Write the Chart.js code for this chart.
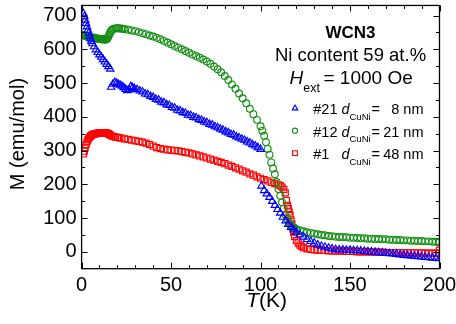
<!DOCTYPE html>
<html>
<head>
<meta charset="utf-8">
<script src="https://cdn.jsdelivr.net/npm/chart.js@4/dist/chart.umd.min.js"></script>
<style>
  html, body { margin: 0; padding: 0; background: #fff; }
  #wrap { width: 456px; height: 324px; }
</style>
</head>
<body>
<div id="wrap"><canvas id="chart" width="456" height="324"></canvas></div>
<script>
// Sample #21 (d_CuNi = 8 nm), blue triangles
var t21 = [1, 1.5, 2, 2.5, 3, 3.5, 4, 4.5, 5, 5.5, 6, 7, 8, 9, 10, 11, 12, 13, 14, 15, 16,
  16.5, 17.5, 18.5, 19.5, 20.5, 21.5, 22.5, 23.5, 24.5, 25.5, 26.5, 27.5, 28.5, 29.5,
  31, 32.5, 34, 35.5, 37, 38.5, 40, 41.5, 43, 44.5, 46, 47.5, 49, 50.5, 52, 53.5, 55, 56.5, 58, 59.5,
  61, 62.5, 64, 65.5, 67, 68.5, 70, 71.5, 73, 74.5, 76, 77.5, 79, 80.5, 82, 83.5, 85, 86.5, 88, 89.5,
  91, 92.5, 94, 95.5, 97, 98.5, 100,
  100.5, 102, 103.5, 105, 106.5, 108, 109.5, 111, 112.5, 114, 115.5, 117, 118.5, 120, 122, 124, 126, 128,
  130, 132, 134, 136, 138, 140, 142, 144, 146, 148, 150, 152, 154, 156, 158, 160, 162, 164, 166, 168,
  170, 172, 174, 176, 178, 180, 182, 184, 186, 188, 190, 192, 194, 196, 198, 200];
var m21 = [706, 697, 687, 677, 667, 657, 648, 639, 631, 624, 617, 608, 599, 591, 584, 577, 570, 563, 556, 549, 542,
  488, 497, 502, 500, 497, 494, 491, 487, 482, 478, 480, 490, 487, 484,
  481, 477, 474, 468, 466, 461, 458, 452, 450, 444, 442, 436, 434, 428, 426, 420, 418, 413, 411, 405,
  404, 399, 397, 392, 390, 385, 383, 378, 376, 371, 368, 364, 361, 356, 353, 348, 346, 341, 338, 334,
  331, 326, 323, 318, 314, 309, 304,
  195, 182, 172, 162, 150, 138, 126, 115, 103, 92, 82, 73, 65, 58, 51, 44, 37, 31,
  26, 21, 17, 14, 11, 9, 7, 6, 6, 5, 5, 4, 4, 3, 2, 1, 0, -1, -2, -3,
  -4, -5, -6, -7, -9, -10, -11, -12, -13, -14, -15, -16, -17, -18, -19, -20];

// Sample #12 (d_CuNi = 21 nm), green circles
var t12 = [0.5, 1, 1.5, 2, 2.5, 3, 3.5, 4, 4.5, 5, 5.5, 6, 6.5, 7, 7.5, 8, 8.5, 9, 9.5, 10, 10.5, 11, 11.5,
  12, 12.5, 13, 13.5, 14, 14.5, 15, 15.5, 16, 16.5, 17, 18, 19, 20, 21, 22, 23, 24, 26, 28, 30, 32, 34,
  36, 38, 40, 42, 44, 46, 48, 50, 52, 54, 56, 58, 60, 62, 64, 66, 68, 70, 72, 74, 76, 78, 80, 82, 84, 86,
  88, 90, 92, 94, 96, 98, 100, 101, 102, 103, 104, 105, 106, 107, 108, 109, 110, 111, 112, 113, 114, 115,
  116, 117, 118, 119, 120, 122, 124, 126, 128, 130, 132, 134, 136, 138, 140, 142, 144, 146, 148, 150, 152,
  154, 156, 158, 160, 162, 164, 166, 168, 170, 172, 174, 176, 178, 180, 182, 184, 186, 188, 190, 192, 194,
  196, 198, 199.5, 200];
var m12 = [643, 642, 641, 640, 639, 638, 638, 637, 636, 636, 635, 635, 634, 634, 633, 633, 632, 632, 631, 631,
  631, 630, 630, 630, 629, 629, 629, 630, 633, 638, 644, 650, 655, 658, 661, 662, 663, 662, 662, 661, 660,
  658, 656, 654, 651, 648, 645, 641, 638, 634, 630, 625, 620, 615, 610, 605, 600, 595, 590, 585, 580, 575,
  570, 564, 557, 549, 541, 532, 521, 509, 496, 483, 469, 455, 440, 424, 408, 391, 372, 359, 344, 325, 305,
  288, 265, 247, 230, 207, 186, 166, 147, 128, 110, 97, 86, 79, 74, 70, 67, 64, 61, 58, 56, 54, 52, 50, 49,
  47, 46, 45, 44, 44, 43, 42, 42, 41, 40, 40, 39, 39, 38, 38, 37, 37, 36, 36, 35, 35, 34, 34, 33, 33, 32,
  32, 31, 31, 30, 30, 29, 29, 28, 15];

// Sample #1 (d_CuNi = 48 nm), red squares
var t1 = [1, 1.5, 2, 2.5, 3, 3.5, 4, 4.5, 5, 5.5, 6, 6.5, 7, 7.5, 8, 8.5, 9, 9.5, 10, 10.5, 11, 11.5, 12,
  12.5, 13, 13.5, 14, 14.5, 15, 15.5, 16, 17, 18, 19, 20, 21, 22, 24, 26, 28, 30, 32, 34, 36, 38, 40, 42,
  44, 46, 48, 50, 52, 54, 56, 58, 60, 62, 64, 66, 68, 70, 72, 74, 76, 78, 80, 82, 84, 86, 88, 90, 92, 94,
  96, 98, 100, 102, 104, 106, 108, 110, 111, 112, 113, 113.8, 114.5, 115, 115.5, 116, 116.5, 117, 117.5,
  118, 118.5, 119, 120, 121, 122, 123, 124, 126, 128, 130, 132, 134, 136, 138, 140, 142, 144, 146, 148,
  150, 152, 154, 156, 158, 160, 162, 164, 166, 168, 170, 172, 174, 176, 178, 180, 182, 184, 186, 188, 190,
  192, 194, 196, 198, 199.5, 200];
var m1 = [290, 298, 308, 318, 326, 332, 337, 340, 343, 345, 347, 348, 349, 350, 350, 351, 351, 352, 352, 352,
  353, 353, 353, 353, 353, 352, 352, 351, 350, 348, 346, 343, 341, 340, 339, 338, 337, 335, 333, 331, 329,
  327, 325, 322, 318, 313, 309, 306, 304, 302, 301, 300, 299, 297, 295, 293, 290, 287, 284, 281, 278, 275,
  272, 268, 265, 261, 257, 253, 249, 245, 240, 236, 231, 227, 222, 218, 214, 210, 206, 202, 198, 196, 192,
  185, 175, 152, 138, 128, 118, 108, 95, 82, 72, 58, 46, 33, 26, 20, 16, 12, 9, 7, 6, 5, 4, 4, 3, 3, 2, 2,
  2, 1, 1, 1, 0, 0, 0, 0, -1, -1, -1, -1, -2, -2, -2, -2, -2, -3, -3, -3, -3, -3, -3, -4, -4, -4, -4, -4, 5];

// Axes
var xTickValues = [0, 50, 100, 150, 200];
var yTickValues = [0, 100, 200, 300, 400, 500, 600, 700];

// Legend and annotation text
var sampleNames = ['#21', '#12', '#1'];
var thicknessLabels = ['8 nm', '21 nm', '48 nm'];
var seriesColors = ['#0000ff', '#138f13', '#ff0000'];

var FONT = '"Liberation Sans", Arial, Helvetica, sans-serif';

function toPoints(ts, ms) {
  return ts.map(function(t, i) { return { x: t, y: ms[i] }; });
}

// Draw a small open marker (legend)
function drawMarker(ctx, style, x, y, r) {
  ctx.beginPath();
  if (style === 'triangle') {
    ctx.moveTo(x, y - r);
    ctx.lineTo(x + r * 0.866, y + r * 0.5);
    ctx.lineTo(x - r * 0.866, y + r * 0.5);
    ctx.closePath();
  } else if (style === 'circle') {
    ctx.arc(x, y, r * 0.8, 0, Math.PI * 2);
  } else {
    var s = r * 0.75;
    ctx.rect(x - s, y - s, 2 * s, 2 * s);
  }
  ctx.stroke();
}

var framePlugin = {
  id: 'framePlugin',
  afterDraw: function(chart) {
    var ctx = chart.ctx;
    var a = chart.chartArea;
    var xs = chart.scales.x;
    var ys = chart.scales.y;
    var v, p, len;

    ctx.save();
    ctx.strokeStyle = '#000';

    // inward ticks on all four sides
    ctx.lineWidth = 1;
    ctx.beginPath();
    for (v = xs.min; v <= xs.max; v += 10) {
      p = Math.round(xs.getPixelForValue(v)) + 0.5;
      len = v % 50 === 0 ? 6 : 3.5;
      ctx.moveTo(p, a.bottom); ctx.lineTo(p, a.bottom - len);
      ctx.moveTo(p, a.top); ctx.lineTo(p, a.top + len);
    }
    for (v = 0; v <= ys.max; v += 50) {
      p = Math.round(ys.getPixelForValue(v)) + 0.5;
      len = v % 100 === 0 ? 6 : 3.5;
      ctx.moveTo(a.left, p); ctx.lineTo(a.left + len, p);
      ctx.moveTo(a.right, p); ctx.lineTo(a.right - len, p);
    }
    ctx.stroke();

    // frame
    ctx.lineWidth = 1.3;
    ctx.strokeRect(a.left, a.top, a.right - a.left, a.bottom - a.top);

    ctx.fillStyle = '#000';
    ctx.textBaseline = 'alphabetic';

    // x title: italic T + (K)
    ctx.font = 'italic 21px ' + FONT;
    var wT = ctx.measureText('T').width;
    ctx.font = '21px ' + FONT;
    var wK = ctx.measureText('(K)').width;
    var xt = (a.left + a.right) / 2 + 6 - (wT + wK) / 2;
    ctx.textAlign = 'left';
    ctx.font = 'italic 21px ' + FONT;
    ctx.fillText('T', xt, 307);
    ctx.font = '21px ' + FONT;
    ctx.fillText('(K)', xt + wT, 307);

    // y title
    ctx.save();
    ctx.translate(18.5, (a.top + a.bottom) / 2 - 3);
    ctx.rotate(-Math.PI / 2);
    ctx.textAlign = 'center';
    ctx.textBaseline = 'middle';
    ctx.font = '20px ' + FONT;
    ctx.fillText('M (emu/mol)', 0, 0);
    ctx.restore();

    // annotation block
    ctx.textAlign = 'center';
    ctx.font = 'bold 17px ' + FONT;
    ctx.fillText('WCN3', 350.5, 37.5);
    ctx.font = '18.5px ' + FONT;
    ctx.fillText('Ni content 59 at.%', 350.5, 61);

    ctx.textAlign = 'left';
    ctx.font = 'italic 19px ' + FONT;
    ctx.fillText('H', 289.5, 84);
    var wH = ctx.measureText('H').width;
    ctx.font = '12.5px ' + FONT;
    ctx.fillText('ext', 289.5 + wH, 91.5);
    ctx.font = '19px ' + FONT;
    ctx.fillText('= 1000 Oe', 323.5, 84);

    // legend rows
    var styles = ['triangle', 'circle', 'rect'];
    for (var i = 0; i < sampleNames.length; i++) {
      var base = 114.3 + i * 22.4;
      ctx.strokeStyle = seriesColors[i];
      ctx.lineWidth = 1.1;
      drawMarker(ctx, styles[i], 295, base - 6, 3.2);

      ctx.fillStyle = '#000';
      ctx.textAlign = 'left';
      ctx.font = '14.5px ' + FONT;
      ctx.fillText(sampleNames[i], 313.3, base);
      ctx.font = 'italic 14.5px ' + FONT;
      ctx.fillText('d', 341.5, base);
      ctx.font = '9.5px ' + FONT;
      ctx.fillText('CuNi', 349.5, base + 5.5);
      ctx.font = '14.5px ' + FONT;
      ctx.fillText('=', 371.5, base);
      ctx.textAlign = 'right';
      ctx.fillText(thicknessLabels[i], 423.5, base);
    }
    ctx.restore();
  }
};

Chart.defaults.font.family = FONT;
Chart.defaults.color = '#000';

var ctx = document.getElementById('chart').getContext('2d');
var chart = new Chart(ctx, {
  type: 'scatter',
  data: {
    datasets: [
      {
        label: sampleNames[0],
        data: toPoints(t21, m21),
        pointStyle: 'triangle',
        pointRadius: 4.3,
        borderColor: seriesColors[0],
        backgroundColor: 'rgba(0,0,0,0)',
        borderWidth: 1.15
      },
      {
        label: sampleNames[1],
        data: toPoints(t12, m12),
        pointStyle: 'circle',
        pointRadius: 3.4,
        borderColor: seriesColors[1],
        backgroundColor: 'rgba(0,0,0,0)',
        borderWidth: 1.15
      },
      {
        label: sampleNames[2],
        data: toPoints(t1, m1),
        pointStyle: 'rect',
        pointRadius: 4.3,
        borderColor: seriesColors[2],
        backgroundColor: 'rgba(0,0,0,0)',
        borderWidth: 1.15
      }
    ]
  },
  options: {
    responsive: false,
    animation: false,
    layout: { padding: { top: 5, right: 16.5, left: 0, bottom: 0 } },
    plugins: {
      legend: { display: false },
      tooltip: { enabled: false }
    },
    scales: {
      x: {
        type: 'linear',
        min: 0,
        max: 200,
        grid: { display: false, drawTicks: false },
        border: { display: false },
        ticks: { font: { size: 20 }, padding: 5, color: '#000' },
        afterBuildTicks: function(scale) {
          scale.ticks = xTickValues.map(function(v) { return { value: v }; });
        },
        afterFit: function(scale) {
          scale.height = 55.3;
          scale.paddingLeft = 0;
          scale.paddingRight = 0;
        }
      },
      y: {
        type: 'linear',
        min: -50,
        max: 730,
        grid: { display: false, drawTicks: false },
        border: { display: false },
        ticks: { font: { size: 20 }, padding: 5, color: '#000' },
        afterBuildTicks: function(scale) {
          scale.ticks = yTickValues.map(function(v) { return { value: v }; });
        },
        afterFit: function(scale) {
          scale.width = 81.6;
          scale.paddingTop = 0;
          scale.paddingBottom = 0;
        }
      }
    }
  },
  plugins: [framePlugin]
});
</script>
</body>
</html>
